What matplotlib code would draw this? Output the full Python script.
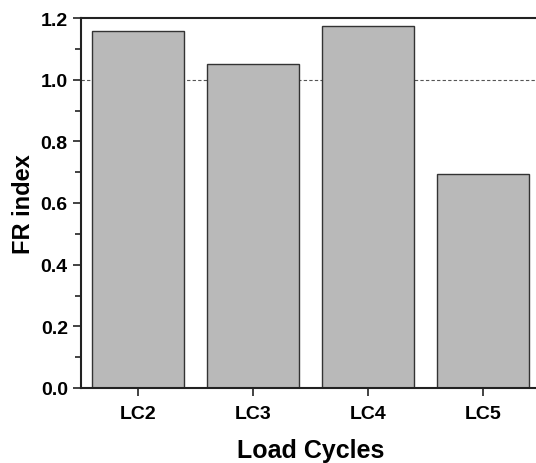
import matplotlib
matplotlib.use("Agg")
import matplotlib.pyplot as plt
from matplotlib.ticker import MultipleLocator

categories = ["LC2", "LC3", "LC4", "LC5"]
fr_index = [1.157, 1.052, 1.174, 0.695]
reference_level = 1.0
y_ticks = [0.0, 0.2, 0.4, 0.6, 0.8, 1.0, 1.2]

plt.rcParams['font.family'] = ['Liberation Sans', 'DejaVu Sans']

fig = plt.figure(figsize=(5.36, 4.64), dpi=100)
ax = fig.add_axes([81/536, 1-389/464, (540.5-81)/536, (389-19)/464])

x = list(range(len(categories)))
ax.bar(x, fr_index, width=0.8, color="#b9b9b9", edgecolor="#333333", linewidth=1.0, zorder=2)
ax.axhline(reference_level, color="#555555", linestyle=(0, (3, 2)), linewidth=0.8, zorder=1)

ax.set_xlim(-0.5, 3.5)
ax.set_ylim(0, 1.2)
ax.set_xticks(x)
ax.set_xticklabels(categories, fontsize=14, fontweight='bold')
ax.yaxis.set_minor_locator(MultipleLocator(0.1))
ax.set_yticks(y_ticks)
ax.set_yticklabels([f"{v:.1f}" for v in y_ticks], fontsize=14, fontweight='bold')
ax.tick_params(axis='both', which='major', direction='out', length=6, width=1.2, color="#222222")
ax.tick_params(axis='y', which='minor', direction='out', length=4, width=1.2, color="#222222")
ax.tick_params(axis='x', which='minor', length=0)
ax.tick_params(axis='x', pad=6)
for s in ax.spines.values():
    s.set_linewidth(1.5)
    s.set_color("#222222")

ax.set_xlabel("Load Cycles", fontsize=18, fontweight='bold', labelpad=12)
ax.set_ylabel("FR index", fontsize=17, fontweight='bold', labelpad=4)

fig.savefig("out.png", dpi=100)
